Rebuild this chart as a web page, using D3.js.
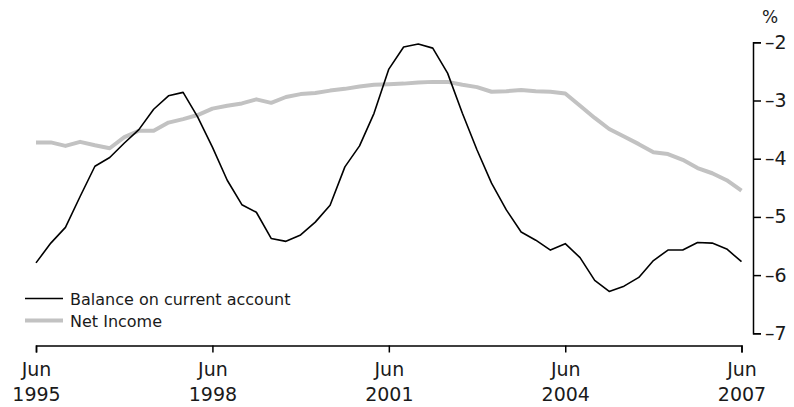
<!DOCTYPE html>
<html>
<head>
<meta charset="utf-8">
<script src="https://cdn.jsdelivr.net/npm/d3@7/dist/d3.min.js"></script>
<style>
  html, body { margin: 0; padding: 0; background: #fff; }
  svg { display: block; font-family: "DejaVu Sans", sans-serif; }
</style>
</head>
<body>
<svg id="chart" width="794" height="407"></svg>
<script>
// Quarterly observations, Jun 1995 – Jun 2007
const quarters = [
  "1995-06","1995-09","1995-12","1996-03","1996-06","1996-09","1996-12","1997-03",
  "1997-06","1997-09","1997-12","1998-03","1998-06","1998-09","1998-12","1999-03",
  "1999-06","1999-09","1999-12","2000-03","2000-06","2000-09","2000-12","2001-03",
  "2001-06","2001-09","2001-12","2002-03","2002-06","2002-09","2002-12","2003-03",
  "2003-06","2003-09","2003-12","2004-03","2004-06","2004-09","2004-12","2005-03",
  "2005-06","2005-09","2005-12","2006-03","2006-06","2006-09","2006-12","2007-03",
  "2007-06"
];

const balanceOnCurrentAccount = [
  -5.79, -5.45, -5.18, -4.65, -4.13, -3.98, -3.73, -3.50,
  -3.15, -2.92, -2.86, -3.28, -3.80, -4.37, -4.79, -4.92,
  -5.37, -5.42, -5.31, -5.09, -4.80, -4.14, -3.78, -3.22,
  -2.46, -2.08, -2.03, -2.10, -2.53, -3.22, -3.85, -4.42,
  -4.88, -5.26, -5.40, -5.57, -5.46, -5.70, -6.09, -6.28,
  -6.19, -6.04, -5.75, -5.57, -5.57, -5.44, -5.45, -5.55,
  -5.77
];

const netIncome = [
  -3.72, -3.72, -3.78, -3.71, -3.77, -3.82, -3.63, -3.52,
  -3.52, -3.38, -3.32, -3.25, -3.14, -3.09, -3.05, -2.98,
  -3.04, -2.94, -2.89, -2.87, -2.83, -2.80, -2.76, -2.73,
  -2.72, -2.71, -2.69, -2.68, -2.68, -2.73, -2.77, -2.85,
  -2.84, -2.82, -2.84, -2.85, -2.88, -3.09, -3.30, -3.49,
  -3.62, -3.75, -3.89, -3.92, -4.02, -4.16, -4.25, -4.37,
  -4.55
];

const xTickQuarters = ["1995-06", "1998-06", "2001-06", "2004-06", "2007-06"];
const xTickMonth = ["Jun", "Jun", "Jun", "Jun", "Jun"];
const xTickYear = ["1995", "1998", "2001", "2004", "2007"];
const yTicks = [-7, -6, -5, -4, -3, -2];
const seriesNames = ["Balance on current account", "Net Income"];
const seriesColors = ["#000000", "#c2c2c2"];
const seriesWidths = [1.6, 4];

const svg = d3.select("#chart");

const parse = d3.timeParse("%Y-%m");
const dates = quarters.map(parse);

const x = d3.scaleTime()
  .domain([parse("1995-06"), parse("2007-06")])
  .range([36, 741.5]);

const y = d3.scaleLinear()
  .domain([-7, -2])
  .range([333.3, 42.3]);

// X axis
const xAxis = d3.axisBottom(x)
  .tickValues(xTickQuarters.map(parse))
  .tickSize(7)
  .tickFormat("");
const gx = svg.append("g")
  .attr("transform", "translate(0,345.5)")
  .call(xAxis);
gx.selectAll("path.domain, line").attr("stroke", "#000").attr("stroke-width", 1.5);
gx.selectAll(".tick").each(function(d, i) {
  const t = d3.select(this).append("text")
    .attr("fill", "#1a1a1a")
    .attr("text-anchor", "middle")
    .style("font-size", "19px")
    .style("font-family", "'DejaVu Sans', sans-serif");
  t.append("tspan").attr("x", 0).attr("y", 30).text(xTickMonth[i]);
  t.append("tspan").attr("x", 0).attr("y", 55).text(xTickYear[i]);
});

// Y axis (right)
const yAxis = d3.axisRight(y)
  .tickValues(yTicks)
  .tickSize(8)
  .tickPadding(4)
  .tickFormat(d => d < 0 ? "\u2013" + Math.abs(d) : String(d));
const gy = svg.append("g")
  .attr("transform", "translate(753,0)")
  .call(yAxis);
gy.selectAll("path.domain, line").attr("stroke", "#000").attr("stroke-width", 1.5);
gy.selectAll("text")
  .attr("fill", "#1a1a1a")
  .style("font-size", "19px")
  .style("font-family", "'DejaVu Sans', sans-serif");

svg.append("text")
  .attr("x", 770)
  .attr("y", 23)
  .attr("text-anchor", "middle")
  .attr("fill", "#1a1a1a")
  .style("font-size", "17px")
  .text("%");

// Lines
const line = d3.line()
  .x((d, i) => x(dates[i]))
  .y(d => y(d));

svg.append("path")
  .datum(netIncome)
  .attr("fill", "none")
  .attr("stroke", seriesColors[1])
  .attr("stroke-width", seriesWidths[1])
  .attr("stroke-linejoin", "round")
  .attr("d", line);

svg.append("path")
  .datum(balanceOnCurrentAccount)
  .attr("fill", "none")
  .attr("stroke", seriesColors[0])
  .attr("stroke-width", seriesWidths[0])
  .attr("stroke-linejoin", "round")
  .attr("d", line);

// Legend
const legend = svg.append("g");
seriesNames.forEach((name, i) => {
  const ly = 298.5 + i * 22;
  legend.append("line")
    .attr("x1", 25).attr("x2", 63)
    .attr("y1", ly).attr("y2", ly)
    .attr("stroke", seriesColors[i])
    .attr("stroke-width", i === 0 ? 1.6 : 4);
  legend.append("text")
    .attr("x", 70)
    .attr("y", ly + 6)
    .attr("fill", "#1a1a1a")
    .style("font-size", "16px")
    .text(name);
});
</script>
</body>
</html>
